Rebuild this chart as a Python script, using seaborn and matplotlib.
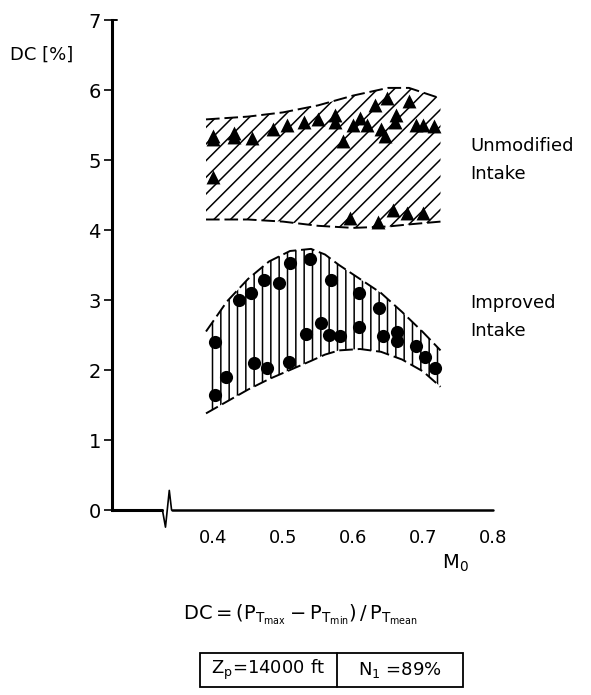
import matplotlib
matplotlib.use("Agg")
import matplotlib.pyplot as plt
import seaborn as sns
import pandas as pd
import numpy as np
from matplotlib.patches import Rectangle
from matplotlib.lines import Line2D

sns.set_style("ticks")
plt.rcParams['font.family'] = ['DejaVu Sans']
plt.rcParams['mathtext.default'] = 'regular'
plt.rcParams['hatch.linewidth'] = 1.1
for k in ['text.color', 'axes.labelcolor', 'xtick.color', 'ytick.color', 'axes.edgecolor']:
    plt.rcParams[k] = 'black'

# ---- data ----
tri_x = [0.40, 0.40, 0.40, 0.43, 0.43, 0.455, 0.485, 0.505, 0.53, 0.55, 0.575, 0.575,
         0.585, 0.60, 0.61, 0.62, 0.632, 0.64, 0.645, 0.648, 0.66, 0.662, 0.68, 0.69,
         0.70, 0.715, 0.595, 0.636, 0.657, 0.677, 0.70]
tri_y = [5.30, 5.35, 4.76, 5.38, 5.33, 5.32, 5.45, 5.50, 5.55, 5.58, 5.55, 5.65,
         5.27, 5.50, 5.60, 5.50, 5.78, 5.45, 5.35, 5.88, 5.55, 5.65, 5.85, 5.50,
         5.50, 5.48, 4.17, 4.11, 4.28, 4.24, 4.25]

circ_x = [0.403, 0.403, 0.419, 0.437, 0.454, 0.459, 0.473, 0.477, 0.494, 0.509, 0.51,
          0.533, 0.539, 0.554, 0.569, 0.566, 0.581, 0.609, 0.609, 0.637, 0.643, 0.663,
          0.663, 0.69, 0.703, 0.717]
circ_y = [2.40, 1.64, 1.90, 3.00, 3.10, 2.10, 3.28, 2.03, 3.24, 2.12, 3.53,
          2.51, 3.58, 2.67, 3.28, 2.50, 2.49, 3.10, 2.62, 2.88, 2.48, 2.55,
          2.42, 2.34, 2.18, 2.03]

unmod_x = [0.39, 0.45, 0.50, 0.55, 0.60, 0.65, 0.68, 0.725]
unmod_lo = [4.15, 4.15, 4.12, 4.06, 4.03, 4.05, 4.08, 4.12]
unmod_hi = [5.58, 5.62, 5.68, 5.78, 5.92, 6.03, 6.03, 5.88]

imp_x = [0.39, 0.42, 0.45, 0.48, 0.51, 0.54, 0.56, 0.58, 0.61, 0.64, 0.67, 0.70, 0.725]
imp_lo = [1.38, 1.55, 1.72, 1.87, 2.00, 2.13, 2.22, 2.28, 2.30, 2.26, 2.15, 1.98, 1.76]
imp_hi = [2.55, 2.98, 3.30, 3.55, 3.70, 3.73, 3.65, 3.50, 3.30, 3.10, 2.83, 2.54, 2.28]

x_ticks = [0.4, 0.5, 0.6, 0.7, 0.8]
y_ticks = [0, 1, 2, 3, 4, 5, 6, 7]

df_tri = pd.DataFrame({"M0": tri_x, "DC": tri_y})
df_circ = pd.DataFrame({"M0": circ_x, "DC": circ_y})

fig = plt.figure(figsize=(5.91, 6.95), dpi=100)
ax = fig.add_axes([112/591, 185/695, (493-112)/591, (510-20)/695])

# bands
ax.fill_between(unmod_x, unmod_lo, unmod_hi, facecolor='none', edgecolor='black',
                hatch='//', linewidth=0)
ax.fill_between(imp_x, imp_lo, imp_hi, facecolor='none', edgecolor='black',
                hatch='||', linewidth=0)
for xs, ys in [(unmod_x, unmod_lo), (unmod_x, unmod_hi), (imp_x, imp_lo), (imp_x, imp_hi)]:
    ax.plot(xs, ys, color='black', lw=1.4, dashes=(7, 2.5))

sns.scatterplot(data=df_tri, x="M0", y="DC", marker='^', s=100, color='black',
                edgecolor='black', linewidth=0, ax=ax, zorder=5)
sns.scatterplot(data=df_circ, x="M0", y="DC", marker='o', s=90, color='black',
                edgecolor='black', linewidth=0, ax=ax, zorder=5)

x_left = 0.4 - (213-112)/700
ax.set_xlim(x_left, 0.8)
ax.set_ylim(0, 7)
ax.set_xticks(x_ticks)
ax.set_xticklabels([f"{v:.1f}" for v in x_ticks], fontsize=13)
ax.set_yticks(y_ticks)
ax.set_yticklabels([str(v) for v in y_ticks], fontsize=14)
ax.tick_params(axis='y', direction='out', length=6, width=1.2, pad=2)
ax.tick_params(axis='x', direction='in', length=0, pad=14)
ax.set_xlabel("")
ax.set_ylabel("")
for s in ['top', 'right', 'bottom']:
    ax.spines[s].set_visible(False)
ax.spines['left'].set_linewidth(2.2)

# x axis with break symbol (axes fraction coordinates)
tr = ax.transAxes
bx = (167-112)/(493-112)
ax.add_line(Line2D([bx - 0.012, bx - 0.004, bx + 0.006, bx + 0.012],
                   [0, -0.035, 0.04, 0], transform=tr, color='black',
                   lw=1.2, clip_on=False))
ax.add_line(Line2D([0, bx - 0.012], [0, 0], transform=tr, color='black', lw=2.2, clip_on=False))
ax.add_line(Line2D([bx + 0.012, 1.0], [0, 0], transform=tr, color='black', lw=1.8, clip_on=False))
# top tick hook at 7
ax.add_line(Line2D([0, 0.012], [1, 1], transform=tr, color='black', lw=1.4, clip_on=False))

fig.text(470/591, 1 - 160/695, "Unmodified\nIntake", fontsize=13, ha='left', va='center',
         linespacing=1.7)
fig.text(470/591, 1 - 317/695, "Improved\nIntake", fontsize=13, ha='left', va='center',
         linespacing=1.7)
fig.text(10/591, 1 - 55/695, "DC [%]", fontsize=13, ha='left', va='center')
fig.text(455/591, 1 - 563/695, r"$M_0$", fontsize=14, ha='center', va='center')
fig.text(300/591, 1 - 615/695,
         r"$DC = (P_{T_{max}} - P_{T_{min}})\,/\,P_{T_{mean}}$",
         fontsize=14, ha='center', va='center')

# parameter box
fig.patches.append(Rectangle((200/591, 1 - 687/695), (463-200)/591, (687-653)/695,
                             transform=fig.transFigure, fill=False, lw=1.3, color='black'))
fig.lines.append(Line2D([337/591, 337/591], [1 - 687/695, 1 - 653/695],
                        transform=fig.transFigure, color='black', lw=1.3))
fig.text(268/591, 1 - 670/695, r"$Z_p$=14000 ft", fontsize=13, ha='center', va='center')
fig.text(400/591, 1 - 670/695, r"$N_1$ =89%", fontsize=13, ha='center', va='center')

fig.savefig("out.png", dpi=100)
